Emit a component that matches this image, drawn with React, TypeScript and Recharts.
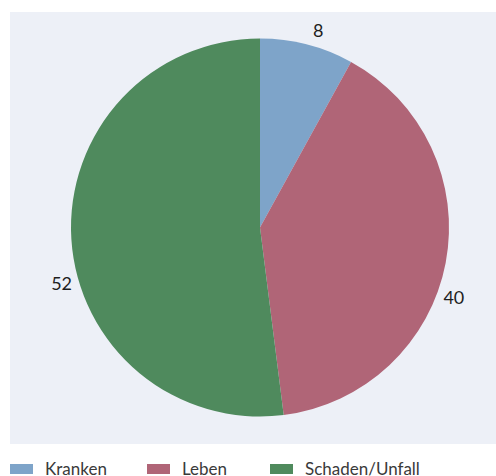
import React from 'react';
import { PieChart, Pie, Cell, Legend } from 'recharts';

const categories = ['Kranken', 'Leben', 'Schaden/Unfall'];
const shares = [8, 40, 52];
const colors = ['#7ea4c9', '#b06577', '#4f8a5d'];

// label angle nudges (degrees), the original puts labels a bit off the slice middle
const labelShift = [-2, -9, 12];

const data = categories.map((name, i) => ({ name, value: shares[i] }));

const RAD = Math.PI / 180;
const FONT = 'Lato, "Open Sans", sans-serif';

const renderLabel = (props: any) => {
  const { cx, cy, midAngle, outerRadius, index, value } = props;
  const a = (midAngle + labelShift[index]) * RAD;
  const r = outerRadius + 17;
  const x = cx + r * Math.cos(-a);
  const y = cy + r * Math.sin(-a);
  return (
    <text x={x} y={y} textAnchor="middle" dominantBaseline="central" fill="#1e1e1e" fontSize={18} fontFamily={FONT}>
      {value}
    </text>
  );
};

const renderLegend = () => (
  <div style={{ display: 'flex', fontFamily: FONT, fontSize: 17, color: '#3a3a3a' }}>
    {categories.map((c, i) => (
      <div key={c} style={{ display: 'flex', alignItems: 'center', width: [137, 123, 200][i] }}>
        <span style={{ display: 'inline-block', width: 23, height: 10, background: colors[i], marginRight: 12 }} />
        <span>{c}</span>
      </div>
    ))}
  </div>
);

const App: React.FC = () => {
  return (
    <div style={{ position: 'relative', width: 496, height: 476, background: '#fff', overflow: 'hidden' }}>
      <style>{'body{margin:0}'}</style>
      <div style={{ position: 'absolute', left: 10, top: 12, width: 486, height: 432, background: '#edf0f7' }} />
      <div style={{ position: 'absolute', left: 0, top: 0 }}>
        <PieChart width={496} height={476} margin={{ top: 0, right: 0, bottom: 0, left: 0 }}>
          <Pie
            data={data}
            dataKey="value"
            nameKey="name"
            cx={260}
            cy={227.5}
            outerRadius={189}
            startAngle={90}
            endAngle={-270}
            stroke="none"
            label={renderLabel}
            labelLine={false}
            isAnimationActive={false}
          >
            {data.map((d, i) => (
              <Cell key={d.name} fill={colors[i]} />
            ))}
          </Pie>
          <Legend content={renderLegend} wrapperStyle={{ left: 10, top: 458, width: 486 }} />
        </PieChart>
      </div>
    </div>
  );
};

export default App;
